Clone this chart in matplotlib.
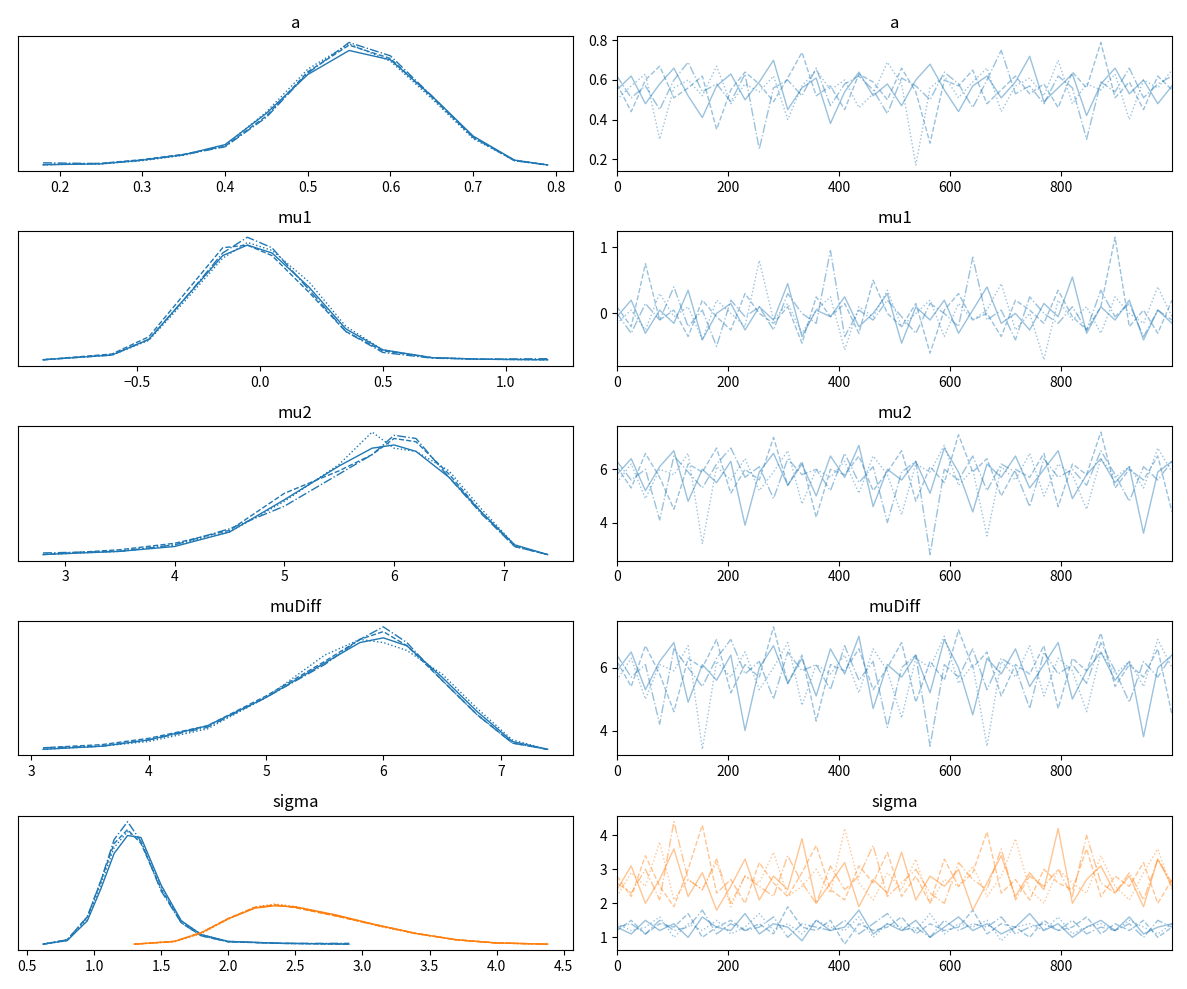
import matplotlib
matplotlib.use("Agg")
import matplotlib.pyplot as plt
import numpy as np

plt.rcParams['font.family'] = ['Noto Sans CJK JP', 'DejaVu Sans']

# ---- KDE curves (x grid, density per chain) ----
a_x = [0.18, 0.25, 0.30, 0.35, 0.40, 0.45, 0.50, 0.55, 0.60, 0.65, 0.70, 0.75, 0.79]
a_kde = [
    [0.03, 0.06, 0.20, 0.40, 0.78, 1.95, 3.40, 4.30, 3.95, 2.60, 1.10, 0.20, 0.02],
    [0.03, 0.08, 0.22, 0.42, 0.72, 1.85, 3.50, 4.50, 4.00, 2.55, 1.05, 0.18, 0.02],
    [0.03, 0.06, 0.18, 0.38, 0.75, 2.00, 3.60, 4.55, 3.90, 2.50, 1.00, 0.20, 0.02],
    [0.10, 0.07, 0.20, 0.40, 0.70, 1.80, 3.45, 4.60, 4.10, 2.60, 1.05, 0.18, 0.02],
]
mu1_x = [-0.88, -0.6, -0.45, -0.3, -0.15, -0.05, 0.05, 0.2, 0.35, 0.5, 0.7, 0.9, 1.17]
mu1_kde = [
    [0.01, 0.10, 0.40, 1.20, 2.00, 2.20, 2.05, 1.40, 0.60, 0.20, 0.05, 0.02, 0.01],
    [0.01, 0.12, 0.45, 1.30, 2.15, 2.20, 2.00, 1.30, 0.55, 0.18, 0.05, 0.02, 0.01],
    [0.01, 0.10, 0.38, 1.15, 1.95, 2.25, 2.10, 1.50, 0.65, 0.20, 0.05, 0.02, 0.01],
    [0.01, 0.10, 0.40, 1.20, 2.05, 2.35, 2.15, 1.35, 0.55, 0.15, 0.04, 0.02, 0.03],
]
mu2_x = [2.8, 3.5, 4.0, 4.5, 5.0, 5.5, 5.8, 6.0, 6.2, 6.5, 6.8, 7.1, 7.4]
mu2_kde = [
    [0.00, 0.02, 0.05, 0.14, 0.34, 0.55, 0.66, 0.68, 0.64, 0.48, 0.26, 0.06, 0.00],
    [0.00, 0.03, 0.07, 0.15, 0.38, 0.52, 0.62, 0.72, 0.70, 0.50, 0.26, 0.05, 0.00],
    [0.00, 0.02, 0.06, 0.14, 0.33, 0.56, 0.76, 0.66, 0.64, 0.52, 0.28, 0.06, 0.00],
    [0.01, 0.02, 0.06, 0.16, 0.30, 0.50, 0.62, 0.74, 0.72, 0.48, 0.25, 0.05, 0.00],
]
mud_x = [3.1, 3.6, 4.0, 4.5, 5.0, 5.5, 5.8, 6.0, 6.2, 6.5, 6.8, 7.1, 7.4]
mud_kde = [
    [0.00, 0.02, 0.06, 0.15, 0.33, 0.55, 0.68, 0.71, 0.66, 0.46, 0.24, 0.05, 0.00],
    [0.01, 0.03, 0.07, 0.15, 0.34, 0.56, 0.70, 0.75, 0.66, 0.44, 0.22, 0.04, 0.00],
    [0.00, 0.02, 0.05, 0.13, 0.33, 0.60, 0.70, 0.68, 0.63, 0.48, 0.26, 0.06, 0.00],
    [0.01, 0.02, 0.06, 0.14, 0.33, 0.54, 0.70, 0.78, 0.68, 0.44, 0.22, 0.04, 0.00],
]
sig0_x = [0.62, 0.8, 0.95, 1.05, 1.15, 1.25, 1.35, 1.5, 1.65, 1.8, 2.0, 2.4, 2.9]
sig0_kde = [
    [0.01, 0.10, 0.60, 1.40, 2.30, 2.75, 2.70, 1.50, 0.60, 0.25, 0.08, 0.03, 0.01],
    [0.01, 0.12, 0.70, 1.60, 2.55, 2.90, 2.55, 1.40, 0.55, 0.22, 0.07, 0.03, 0.01],
    [0.01, 0.10, 0.65, 1.50, 2.45, 2.85, 2.60, 1.45, 0.60, 0.25, 0.08, 0.03, 0.01],
    [0.01, 0.12, 0.70, 1.60, 2.65, 3.10, 2.60, 1.35, 0.55, 0.22, 0.07, 0.03, 0.03],
]
sig1_x = [1.3, 1.6, 1.8, 2.0, 2.2, 2.35, 2.5, 2.8, 3.1, 3.4, 3.7, 4.0, 4.38]
sig1_kde = [
    [0.01, 0.08, 0.30, 0.65, 0.92, 0.98, 0.95, 0.75, 0.50, 0.28, 0.12, 0.04, 0.01],
    [0.01, 0.08, 0.30, 0.66, 0.94, 1.00, 0.93, 0.72, 0.50, 0.28, 0.12, 0.04, 0.01],
    [0.01, 0.07, 0.28, 0.64, 0.95, 1.02, 0.96, 0.74, 0.48, 0.27, 0.12, 0.04, 0.01],
    [0.01, 0.08, 0.30, 0.65, 0.93, 0.99, 0.94, 0.73, 0.49, 0.28, 0.12, 0.04, 0.01],
]

# ---- trace samples (coarse, 4 chains x 40 points) ----
a_trace = [
    [0.55, 0.62, 0.48, 0.58, 0.66, 0.52, 0.41, 0.57, 0.63, 0.50, 0.59, 0.70, 0.45, 0.56, 0.61, 0.38, 0.54, 0.64, 0.52, 0.58,
     0.47, 0.60, 0.68, 0.55, 0.44, 0.57, 0.62, 0.51, 0.59, 0.72, 0.49, 0.56, 0.63, 0.42, 0.58, 0.66, 0.53, 0.60, 0.48, 0.57],
    [0.58, 0.44, 0.60, 0.67, 0.51, 0.56, 0.62, 0.35, 0.55, 0.64, 0.58, 0.49, 0.61, 0.74, 0.52, 0.57, 0.45, 0.63, 0.59, 0.50,
     0.66, 0.54, 0.28, 0.60, 0.57, 0.65, 0.48, 0.55, 0.62, 0.53, 0.58, 0.46, 0.64, 0.56, 0.79, 0.51, 0.59, 0.45, 0.62, 0.55],
    [0.50, 0.57, 0.63, 0.30, 0.56, 0.60, 0.52, 0.67, 0.48, 0.58, 0.54, 0.62, 0.40, 0.57, 0.65, 0.55, 0.60, 0.46, 0.53, 0.69,
     0.58, 0.17, 0.56, 0.62, 0.51, 0.59, 0.66, 0.44, 0.57, 0.61, 0.52, 0.70, 0.48, 0.58, 0.55, 0.63, 0.40, 0.60, 0.56, 0.65],
    [0.62, 0.51, 0.57, 0.45, 0.60, 0.69, 0.54, 0.58, 0.49, 0.63, 0.25, 0.56, 0.60, 0.52, 0.66, 0.47, 0.58, 0.62, 0.55, 0.43,
     0.61, 0.57, 0.50, 0.64, 0.58, 0.46, 0.60, 0.75, 0.53, 0.57, 0.48, 0.62, 0.56, 0.30, 0.59, 0.54, 0.66, 0.51, 0.58, 0.62],
]
mu1_trace = [
    [-0.05, 0.20, -0.30, 0.05, -0.15, 0.35, -0.40, 0.00, 0.15, -0.25, 0.10, -0.10, 0.45, -0.35, 0.05, -0.05, 0.25, -0.20, 0.00, 0.30,
     -0.45, 0.10, -0.10, 0.20, -0.30, 0.05, 0.40, -0.15, 0.00, -0.25, 0.15, -0.05, 0.55, -0.30, 0.10, -0.10, 0.20, -0.40, 0.05, -0.15],
    [0.10, -0.20, 0.75, -0.10, 0.05, -0.35, 0.20, -0.05, -0.25, 0.30, 0.00, -0.15, 0.10, -0.45, 0.25, -0.05, 0.15, -0.30, 0.50, 0.00,
     -0.20, 0.15, -0.60, 0.05, 0.30, -0.10, 0.00, -0.35, 0.20, 0.05, -0.15, 0.35, -0.05, -0.25, 0.10, 1.15, -0.20, 0.05, -0.30, 0.20],
    [-0.15, 0.05, -0.25, 0.30, -0.05, 0.10, -0.40, 0.20, 0.00, -0.20, 0.80, -0.10, 0.15, -0.30, 0.05, 0.25, -0.55, 0.10, -0.05, 0.35,
     -0.20, 0.00, 0.20, -0.35, 0.15, -0.10, 0.05, 0.45, -0.25, 0.00, -0.70, 0.20, -0.10, 0.10, -0.30, 0.25, 0.00, -0.15, 0.40, -0.05],
    [0.00, -0.30, 0.15, -0.10, 0.40, -0.20, 0.05, -0.50, 0.20, -0.05, 0.10, -0.25, 0.30, 0.00, -0.15, 0.95, -0.35, 0.05, -0.10, 0.20,
     -0.05, -0.30, 0.15, 0.00, -0.20, 0.85, -0.10, 0.05, -0.40, 0.25, 0.00, -0.15, 0.10, -0.25, 0.35, -0.05, 0.15, -0.35, 0.05, -0.10],
]
mu2_trace = [
    [5.8, 6.4, 5.2, 6.1, 6.7, 4.8, 6.0, 5.5, 6.3, 3.9, 5.9, 6.6, 5.4, 6.2, 5.0, 6.5, 5.7, 6.9, 4.6, 6.0,
     5.6, 6.3, 5.1, 6.8, 5.9, 4.4, 6.2, 5.7, 6.5, 5.3, 6.0, 6.7, 4.9, 5.8, 6.4, 5.5, 6.1, 3.6, 5.9, 6.3],
    [6.1, 5.3, 6.6, 5.7, 4.5, 6.2, 5.9, 6.8, 5.1, 6.0, 5.6, 7.2, 5.4, 6.3, 4.2, 6.0, 5.8, 6.5, 5.2, 5.9,
     6.7, 4.8, 6.1, 5.5, 7.3, 5.9, 6.4, 5.0, 6.0, 5.7, 6.6, 4.6, 6.2, 5.8, 7.4, 5.3, 6.0, 5.6, 6.5, 4.4],
    [5.5, 6.2, 4.9, 6.0, 5.8, 6.6, 3.2, 6.1, 5.6, 6.4, 5.2, 5.9, 6.7, 4.7, 6.0, 5.7, 6.3, 5.1, 6.5, 5.8,
     4.3, 6.2, 5.9, 6.9, 5.4, 6.0, 3.5, 6.1, 5.6, 6.6, 5.0, 6.2, 5.8, 4.5, 6.4, 5.7, 6.1, 5.3, 6.8, 5.9],
    [6.3, 5.6, 6.0, 4.1, 6.5, 5.9, 5.3, 6.2, 6.8, 5.7, 6.1, 4.9, 6.4, 5.8, 6.0, 5.2, 6.6, 5.5, 6.1, 4.0,
     5.9, 6.3, 2.8, 6.0, 5.6, 6.5, 5.2, 6.2, 5.9, 4.6, 6.4, 5.7, 6.0, 5.4, 6.7, 5.8, 4.8, 6.1, 5.6, 6.3],
]
mud_trace = [
    [5.9, 6.5, 5.3, 6.2, 6.8, 4.9, 6.1, 5.6, 6.4, 4.0, 6.0, 6.7, 5.5, 6.3, 5.1, 6.6, 5.8, 7.0, 4.7, 6.1,
     5.7, 6.4, 5.2, 6.9, 6.0, 4.5, 6.3, 5.8, 6.6, 5.4, 6.1, 6.8, 5.0, 5.9, 6.5, 5.6, 6.2, 3.8, 6.0, 6.4],
    [6.2, 5.4, 6.7, 5.8, 4.6, 6.3, 6.0, 6.9, 5.2, 6.1, 5.7, 7.3, 5.5, 6.4, 4.3, 6.1, 5.9, 6.6, 5.3, 6.0,
     6.8, 4.9, 6.2, 5.6, 7.2, 6.0, 6.5, 5.1, 6.1, 5.8, 6.7, 4.7, 6.3, 5.9, 7.1, 5.4, 6.1, 5.7, 6.6, 4.5],
    [5.6, 6.3, 5.0, 6.1, 5.9, 6.7, 3.4, 6.2, 5.7, 6.5, 5.3, 6.0, 6.8, 4.8, 6.1, 5.8, 6.4, 5.2, 6.6, 5.9,
     4.4, 6.3, 6.0, 7.0, 5.5, 6.1, 3.5, 6.2, 5.7, 6.7, 5.1, 6.3, 5.9, 4.6, 6.5, 5.8, 6.2, 5.4, 6.9, 6.0],
    [6.4, 5.7, 6.1, 4.2, 6.6, 6.0, 5.4, 6.3, 6.9, 5.8, 6.2, 5.0, 6.5, 5.9, 6.1, 5.3, 6.7, 5.6, 6.2, 4.1,
     6.0, 6.4, 3.5, 6.1, 5.7, 6.6, 5.3, 6.3, 6.0, 4.7, 6.5, 5.8, 6.1, 5.5, 6.8, 5.9, 4.9, 6.2, 5.7, 6.4],
]
sig0_trace = [
    [1.3, 1.1, 1.5, 1.2, 1.4, 1.0, 1.6, 1.3, 1.2, 1.7, 1.1, 1.4, 1.3, 0.9, 1.5, 1.2, 1.3, 1.8, 1.1, 1.4,
     1.2, 1.5, 1.0, 1.3, 1.6, 1.2, 1.4, 1.1, 1.3, 1.7, 1.2, 1.4, 1.0, 1.3, 1.5, 1.2, 1.6, 1.1, 1.3, 1.4],
    [1.2, 1.5, 1.1, 1.4, 1.3, 1.7, 1.0, 1.3, 1.5, 1.2, 1.4, 1.1, 1.9, 1.3, 1.2, 1.5, 0.8, 1.4, 1.2, 1.3,
     1.6, 1.1, 1.4, 1.2, 1.3, 1.8, 1.1, 1.4, 1.3, 1.0, 1.5, 1.2, 1.3, 1.6, 1.1, 1.4, 1.2, 1.5, 1.0, 1.3],
    [1.4, 1.2, 1.3, 1.6, 1.0, 1.4, 1.2, 1.5, 1.1, 1.3, 1.7, 1.2, 1.4, 1.1, 1.5, 1.3, 1.2, 1.6, 1.0, 1.4,
     1.3, 1.2, 1.7, 1.1, 1.4, 1.3, 1.5, 0.9, 1.3, 1.4, 1.2, 1.6, 1.1, 1.3, 1.4, 1.2, 1.5, 1.3, 1.1, 1.4],
    [1.3, 1.4, 1.1, 1.5, 1.2, 1.3, 1.8, 1.1, 1.4, 1.2, 1.3, 1.6, 1.0, 1.4, 1.3, 1.2, 1.5, 1.1, 1.4, 1.7,
     1.2, 1.3, 1.0, 1.5, 1.2, 1.4, 1.3, 1.6, 1.1, 1.3, 1.4, 1.2, 1.5, 1.1, 1.3, 1.2, 1.4, 1.0, 1.5, 1.3],
]
sig1_trace = [
    [2.4, 3.1, 2.0, 2.7, 3.6, 2.2, 2.9, 1.8, 2.5, 3.3, 2.1, 2.8, 2.4, 3.9, 2.0, 2.6, 3.2, 1.9, 2.7, 2.3,
     3.5, 2.1, 2.8, 2.5, 3.0, 1.8, 2.6, 3.4, 2.2, 2.9, 2.4, 4.2, 2.0, 2.7, 3.1, 2.3, 2.8, 1.9, 3.3, 2.5],
    [2.8, 2.2, 3.4, 2.5, 1.9, 3.0, 4.3, 2.3, 2.7, 2.0, 3.2, 2.6, 2.2, 2.9, 3.7, 2.4, 2.1, 3.1, 2.6, 3.5,
     2.2, 2.8, 2.0, 3.3, 2.5, 2.9, 4.1, 2.3, 2.7, 2.1, 3.0, 2.6, 2.4, 3.6, 2.2, 2.8, 2.5, 3.2, 2.0, 2.7],
    [2.2, 2.9, 2.5, 3.8, 2.1, 2.7, 2.4, 3.2, 1.9, 2.8, 2.6, 3.5, 2.2, 2.5, 3.0, 2.3, 4.2, 2.6, 2.1, 2.9,
     2.4, 3.3, 2.0, 2.7, 2.5, 3.1, 2.2, 2.8, 3.9, 2.4, 2.0, 3.0, 2.6, 2.3, 3.4, 2.5, 2.1, 2.9, 3.6, 2.4],
    [2.6, 2.3, 3.0, 2.1, 4.4, 2.7, 2.4, 3.3, 2.0, 2.8, 2.5, 2.2, 3.4, 2.6, 2.0, 3.1, 2.4, 2.8, 3.7, 2.2,
     2.6, 3.0, 2.3, 2.0, 3.2, 2.7, 2.4, 3.6, 2.1, 2.8, 2.5, 3.0, 2.2, 4.0, 2.6, 2.3, 2.9, 2.1, 3.3, 2.6],
]

names = ["a", "mu1", "mu2", "muDiff", "sigma"]
kdes = [
    [(a_x, a_kde, "C0")],
    [(mu1_x, mu1_kde, "C0")],
    [(mu2_x, mu2_kde, "C0")],
    [(mud_x, mud_kde, "C0")],
    [(sig0_x, sig0_kde, "C0"), (sig1_x, sig1_kde, "C1")],
]
traces = [
    [(a_trace, "C0")],
    [(mu1_trace, "C0")],
    [(mu2_trace, "C0")],
    [(mud_trace, "C0")],
    [(sig0_trace, "C0"), (sig1_trace, "C1")],
]
styles = ["-", "--", ":", "-."]
n_draws = 1000

fig, axes = plt.subplots(5, 2, figsize=(11.87, 9.89), dpi=100)
for i, name in enumerate(names):
    axk, axt = axes[i]
    for xs, dens, col in kdes[i]:
        for c, d in enumerate(dens):
            axk.plot(xs, d, color=col, ls=styles[c], lw=1)
    axk.set_yticks([])
    axk.set_title(name)
    for chains, col in traces[i]:
        for c, vals in enumerate(chains):
            xx = np.linspace(0, n_draws - 1, len(vals))
            axt.plot(xx, vals, color=col, ls=styles[c], lw=1, alpha=0.45)
    axt.set_xlim(0, n_draws - 1)
    axt.set_title(name)

fig.tight_layout()
fig.savefig("out.png")
